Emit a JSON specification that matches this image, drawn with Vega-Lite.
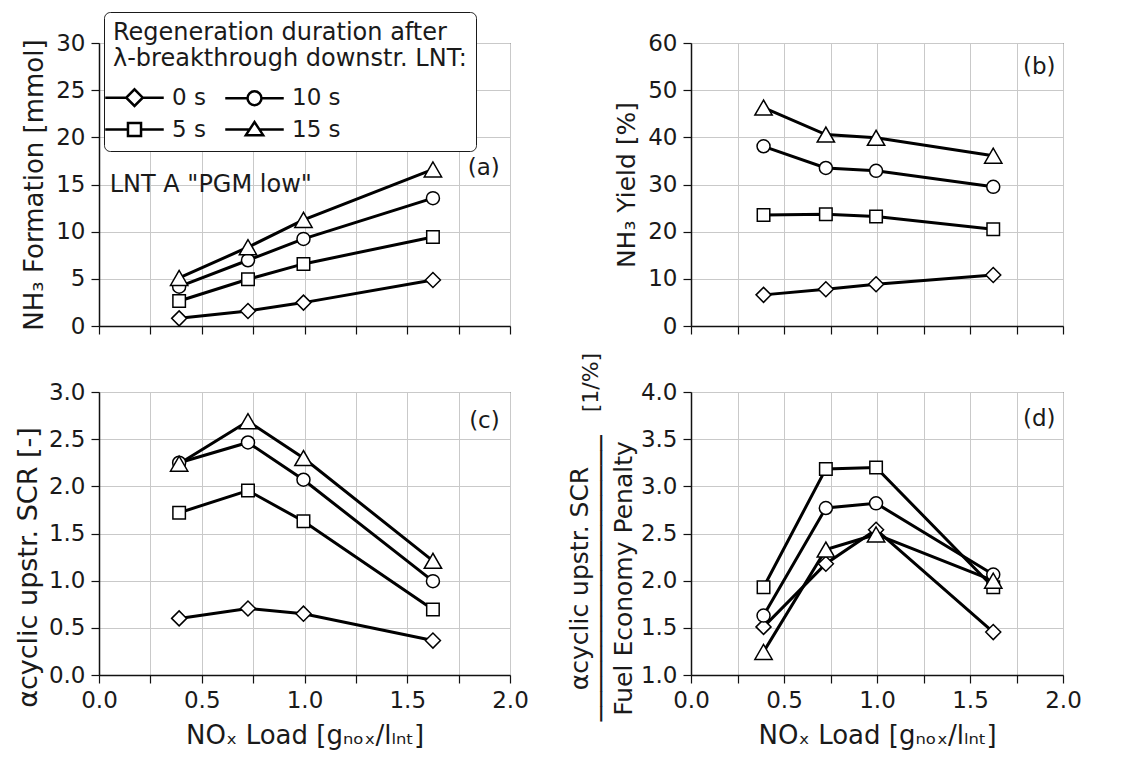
{
  "$schema": "https://vega.github.io/schema/vega-lite/v6.json",
  "background": "white",
  "padding": {"left": 13, "top": 11, "right": 10, "bottom": 5},
  "data": {"values": [
    {"p":"a","s":"0 s","x":0.39,"y":0.81},{"p":"a","s":"0 s","x":0.725,"y":1.59},{"p":"a","s":"0 s","x":0.995,"y":2.48},{"p":"a","s":"0 s","x":1.625,"y":4.88},
    {"p":"a","s":"5 s","x":0.39,"y":2.65},{"p":"a","s":"5 s","x":0.725,"y":4.95},{"p":"a","s":"5 s","x":0.995,"y":6.58},{"p":"a","s":"5 s","x":1.625,"y":9.44},
    {"p":"a","s":"10 s","x":0.39,"y":4.17},{"p":"a","s":"10 s","x":0.725,"y":6.97},{"p":"a","s":"10 s","x":0.995,"y":9.23},{"p":"a","s":"10 s","x":1.625,"y":13.55},
    {"p":"a","s":"15 s","x":0.39,"y":5.1},{"p":"a","s":"15 s","x":0.725,"y":8.35},{"p":"a","s":"15 s","x":0.995,"y":11.25},{"p":"a","s":"15 s","x":1.625,"y":16.6},
    {"p":"b","s":"0 s","x":0.39,"y":6.6},{"p":"b","s":"0 s","x":0.725,"y":7.8},{"p":"b","s":"0 s","x":0.995,"y":8.85},{"p":"b","s":"0 s","x":1.625,"y":10.8},
    {"p":"b","s":"5 s","x":0.39,"y":23.55},{"p":"b","s":"5 s","x":0.725,"y":23.7},{"p":"b","s":"5 s","x":0.995,"y":23.2},{"p":"b","s":"5 s","x":1.625,"y":20.5},
    {"p":"b","s":"10 s","x":0.39,"y":38.1},{"p":"b","s":"10 s","x":0.725,"y":33.5},{"p":"b","s":"10 s","x":0.995,"y":32.9},{"p":"b","s":"10 s","x":1.625,"y":29.5},
    {"p":"b","s":"15 s","x":0.39,"y":46.3},{"p":"b","s":"15 s","x":0.725,"y":40.6},{"p":"b","s":"15 s","x":0.995,"y":39.9},{"p":"b","s":"15 s","x":1.625,"y":36.1},
    {"p":"c","s":"0 s","x":0.39,"y":0.6},{"p":"c","s":"0 s","x":0.725,"y":0.705},{"p":"c","s":"0 s","x":0.995,"y":0.65},{"p":"c","s":"0 s","x":1.625,"y":0.365},
    {"p":"c","s":"5 s","x":0.39,"y":1.72},{"p":"c","s":"5 s","x":0.725,"y":1.955},{"p":"c","s":"5 s","x":0.995,"y":1.63},{"p":"c","s":"5 s","x":1.625,"y":0.695},
    {"p":"c","s":"10 s","x":0.39,"y":2.25},{"p":"c","s":"10 s","x":0.725,"y":2.465},{"p":"c","s":"10 s","x":0.995,"y":2.07},{"p":"c","s":"10 s","x":1.625,"y":0.995},
    {"p":"c","s":"15 s","x":0.39,"y":2.24},{"p":"c","s":"15 s","x":0.725,"y":2.69},{"p":"c","s":"15 s","x":0.995,"y":2.3},{"p":"c","s":"15 s","x":1.625,"y":1.21},
    {"p":"d","s":"0 s","x":0.39,"y":1.51},{"p":"d","s":"0 s","x":0.725,"y":2.18},{"p":"d","s":"0 s","x":0.995,"y":2.54},{"p":"d","s":"0 s","x":1.625,"y":1.455},
    {"p":"d","s":"5 s","x":0.39,"y":1.93},{"p":"d","s":"5 s","x":0.725,"y":3.185},{"p":"d","s":"5 s","x":0.995,"y":3.2},{"p":"d","s":"5 s","x":1.625,"y":1.93},
    {"p":"d","s":"10 s","x":0.39,"y":1.63},{"p":"d","s":"10 s","x":0.725,"y":2.77},{"p":"d","s":"10 s","x":0.995,"y":2.82},{"p":"d","s":"10 s","x":1.625,"y":2.065},
    {"p":"d","s":"15 s","x":0.39,"y":1.245},{"p":"d","s":"15 s","x":0.725,"y":2.33},{"p":"d","s":"15 s","x":0.995,"y":2.49},{"p":"d","s":"15 s","x":1.625,"y":2.0}
  ]},
  "columns": 2,
  "spacing": {"row": 66, "column": 181},
  "bounds": "flush",
  "resolve": {"scale": {"shape": "independent", "size": "independent"}, "legend": {"shape": "independent", "size": "independent"}},
  "concat": [
    {
      "width": 411, "height": 283,
      "resolve": {"scale": {"shape": "independent"}, "legend": {"shape": "independent"}},
      "layer": [
        {"transform": [{"filter": "datum.p === 'a'"}],
         "mark": {"type": "line", "stroke": "black", "strokeWidth": 3},
         "encoding": {
           "x": {"field": "x", "type": "quantitative", "scale": {"domain": [0, 2], "nice": false},
                 "axis": {"values": [0,0.25,0.5,0.75,1,1.25,1.5,1.75,2], "labels": false, "title": null, "tickSize": 8}},
           "y": {"field": "y", "type": "quantitative", "scale": {"domain": [0, 30], "nice": false, "zero": false},
                 "axis": {"values": [0,2.5,5,7.5,10,12.5,15,17.5,20,22.5,25,27.5,30], "format": "d",
                          "labelExpr": "datum.value % 5 === 0 ? datum.label : ''",
                          "gridOpacity": {"condition": {"test": "datum.value % 5 === 0", "value": 1}, "value": 0},
                          "tickSize": {"condition": {"test": "datum.value % 5 === 0", "value": 8}, "value": 4},
                          "labelPadding": 6,
                          "title": "NH₃ Formation [mmol]", "titleFontSize": 26, "titlePadding": 8}},
           "detail": {"field": "s"}
         }},
        {"transform": [{"filter": "datum.p === 'a'"}],
         "mark": {"type": "point", "filled": true, "fill": "white", "stroke": "black", "strokeWidth": 1.5, "opacity": 1},
         "encoding": {
           "x": {"field": "x", "type": "quantitative", "scale": {"domain": [0, 2], "nice": false}},
           "y": {"field": "y", "type": "quantitative", "scale": {"domain": [0, 30], "nice": false, "zero": false}},
           "shape": {"field": "s", "type": "nominal", "scale": {"domain": ["15 s","10 s","5 s","0 s"], "range": ["triangle-up","circle","square","diamond"]}, "legend": null},
           "size": {"field": "s", "type": "nominal", "scale": {"type": "ordinal", "domain": ["10 s","0 s","15 s","5 s"], "range": [169,225,300,156]}, "legend": null}
         }},
        {"transform": [{"filter": "false"}],
         "mark": {"type": "point", "filled": true, "fill": "white", "stroke": "black", "strokeWidth": 2.5, "opacity": 1},
         "encoding": {
           "x": {"field": "x", "type": "quantitative", "scale": {"domain": [0, 2], "nice": false}},
           "y": {"field": "y", "type": "quantitative", "scale": {"domain": [0, 30], "nice": false, "zero": false}},
           "shape": {"field": "s", "type": "nominal",
                     "scale": {"domain": ["0 s","5 s","10 s","15 s"],
                               "range": ["M-3.9,0H-1.1M-1.1,0L0,-1.1L1.1,0L0,1.1ZM1.1,0H3.9",
                                         "M-3.9,0H-0.87M-0.87,-0.87H0.87V0.87H-0.87ZM0.87,0H3.9",
                                         "M-3.9,0H-0.93M-0.93,0A0.93,0.93,0,1,0,0.93,0A0.93,0.93,0,1,0,-0.93,0ZM0.93,0H3.9",
                                         "M-3.9,0H-0.66M-1.15,0.75L0,-1.0L1.15,0.75ZM0.66,0H3.9"]},
                     "legend": {
                       "orient": "none", "legendX": 5, "legendY": -31,
                       "title": ["Regeneration duration after", "λ-breakthrough downstr. LNT:"],
                       "titleLimit": 600, "labelLimit": 200,
                       "titleFontSize": 24, "titleFontWeight": "normal", "titleColor": "#1a1a1a", "titleLineHeight": 26, "titlePadding": 15,
                       "labelFontSize": 23, "labelColor": "#1a1a1a",
                       "columns": 2, "columnPadding": 14, "rowPadding": 6,
                       "symbolSize": 225, "symbolStrokeWidth": 2.5, "symbolOffset": 10, "labelOffset": 26,
                       "symbolOpacity": 1,
                       "padding": 9, "strokeColor": "#1a1a1a", "cornerRadius": 6, "fillColor": "white"
                     }}
         }},
        {"data": {"values": [{}]},
         "mark": {"type": "text", "fontSize": 23, "align": "right", "baseline": "middle"},
         "encoding": {"x": {"datum": 1.95, "type": "quantitative", "scale": {"domain": [0, 2], "nice": false}},
                      "y": {"datum": 16.7, "type": "quantitative", "scale": {"domain": [0, 30], "nice": false, "zero": false}},
                      "text": {"value": "(a)"}}},
        {"data": {"values": [{}]},
         "mark": {"type": "text", "fontSize": 24, "align": "left", "baseline": "middle"},
         "encoding": {"x": {"datum": 0.052, "type": "quantitative", "scale": {"domain": [0, 2], "nice": false}},
                      "y": {"datum": 15, "type": "quantitative", "scale": {"domain": [0, 30], "nice": false, "zero": false}},
                      "text": {"value": "LNT A \"PGM low\""}}}
      ]
    },
    {
      "width": 372, "height": 283,
      "layer": [
        {"transform": [{"filter": "datum.p === 'b'"}],
         "mark": {"type": "line", "stroke": "black", "strokeWidth": 3},
         "encoding": {
           "x": {"field": "x", "type": "quantitative", "scale": {"domain": [0, 2], "nice": false},
                 "axis": {"values": [0,0.25,0.5,0.75,1,1.25,1.5,1.75,2], "labels": false, "title": null, "tickSize": 8}},
           "y": {"field": "y", "type": "quantitative", "scale": {"domain": [0, 60], "nice": false, "zero": false},
                 "axis": {"values": [0,5,10,15,20,25,30,35,40,45,50,55,60], "format": "d",
                          "labelExpr": "datum.value % 10 === 0 ? datum.label : ''",
                          "gridOpacity": {"condition": {"test": "datum.value % 10 === 0", "value": 1}, "value": 0},
                          "tickSize": {"condition": {"test": "datum.value % 10 === 0", "value": 8}, "value": 4},
                          "labelPadding": 6,
                          "title": "NH₃ Yield [%]", "titleFontSize": 25, "titlePadding": 8}},
           "detail": {"field": "s"}
         }},
        {"transform": [{"filter": "datum.p === 'b'"}],
         "mark": {"type": "point", "filled": true, "fill": "white", "stroke": "black", "strokeWidth": 1.5, "opacity": 1},
         "encoding": {
           "x": {"field": "x", "type": "quantitative", "scale": {"domain": [0, 2], "nice": false}},
           "y": {"field": "y", "type": "quantitative", "scale": {"domain": [0, 60], "nice": false, "zero": false}},
           "shape": {"field": "s", "type": "nominal", "scale": {"domain": ["0 s","5 s","10 s","15 s"], "range": ["diamond","square","circle","triangle-up"]}, "legend": null},
           "size": {"field": "s", "type": "nominal", "scale": {"type": "ordinal", "domain": ["15 s","10 s","5 s","0 s"], "range": [300,169,156,225]}, "legend": null}
         }},
        {"data": {"values": [{}]},
         "mark": {"type": "text", "fontSize": 23, "align": "right", "baseline": "middle"},
         "encoding": {"x": {"datum": 1.96, "type": "quantitative", "scale": {"domain": [0, 2], "nice": false}},
                      "y": {"datum": 55, "type": "quantitative", "scale": {"domain": [0, 60], "nice": false, "zero": false}},
                      "text": {"value": "(b)"}}}
      ]
    },
    {
      "width": 411, "height": 283,
      "layer": [
        {"transform": [{"filter": "datum.p === 'c'"}],
         "mark": {"type": "line", "stroke": "black", "strokeWidth": 3},
         "encoding": {
           "x": {"field": "x", "type": "quantitative", "scale": {"domain": [0, 2], "nice": false},
                 "axis": {"values": [0,0.25,0.5,0.75,1,1.25,1.5,1.75,2], "format": ".1f",
                          "labelExpr": "abs(datum.value*2 - round(datum.value*2)) < 0.001 ? datum.label : ''",
                          "tickSize": 8, "labelPadding": 6,
                          "title": "NOₓ Load [gₙₒₓ/lₗₙₜ]", "titleFontSize": 26, "titlePadding": 10}},
           "y": {"field": "y", "type": "quantitative", "scale": {"domain": [0, 3], "nice": false, "zero": false},
                 "axis": {"values": [0,0.25,0.5,0.75,1,1.25,1.5,1.75,2,2.25,2.5,2.75,3], "format": ".1f",
                          "labelExpr": "abs(datum.value*2 - round(datum.value*2)) < 0.001 ? datum.label : ''",
                          "gridOpacity": {"condition": {"test": "abs(datum.value*2 - round(datum.value*2)) < 0.001", "value": 1}, "value": 0},
                          "tickSize": {"condition": {"test": "abs(datum.value*2 - round(datum.value*2)) < 0.001", "value": 8}, "value": 4},
                          "labelPadding": 6,
                          "title": "αcyclic upstr. SCR [-]", "titleFontSize": 27, "titlePadding": 6, "titleY": 175}},
           "detail": {"field": "s"}
         }},
        {"transform": [{"filter": "datum.p === 'c'"}],
         "mark": {"type": "point", "filled": true, "fill": "white", "stroke": "black", "strokeWidth": 1.5, "opacity": 1},
         "encoding": {
           "x": {"field": "x", "type": "quantitative", "scale": {"domain": [0, 2], "nice": false}},
           "y": {"field": "y", "type": "quantitative", "scale": {"domain": [0, 3], "nice": false, "zero": false}},
           "shape": {"field": "s", "type": "nominal", "scale": {"domain": ["0 s","5 s","10 s","15 s"], "range": ["diamond","square","circle","triangle-up"]}, "legend": null},
           "size": {"field": "s", "type": "nominal", "scale": {"type": "ordinal", "domain": ["15 s","10 s","5 s","0 s"], "range": [300,169,156,225]}, "legend": null}
         }},
        {"data": {"values": [{}]},
         "mark": {"type": "text", "fontSize": 23, "align": "right", "baseline": "middle"},
         "encoding": {"x": {"datum": 1.95, "type": "quantitative", "scale": {"domain": [0, 2], "nice": false}},
                      "y": {"datum": 2.69, "type": "quantitative", "scale": {"domain": [0, 3], "nice": false, "zero": false}},
                      "text": {"value": "(c)"}}}
      ]
    },
    {
      "width": 372, "height": 283,
      "layer": [
        {"transform": [{"filter": "datum.p === 'd'"}],
         "mark": {"type": "line", "stroke": "black", "strokeWidth": 3},
         "encoding": {
           "x": {"field": "x", "type": "quantitative", "scale": {"domain": [0, 2], "nice": false},
                 "axis": {"values": [0,0.25,0.5,0.75,1,1.25,1.5,1.75,2], "format": ".1f",
                          "labelExpr": "abs(datum.value*2 - round(datum.value*2)) < 0.001 ? datum.label : ''",
                          "tickSize": 8, "labelPadding": 6,
                          "title": "NOₓ Load [gₙₒₓ/lₗₙₜ]", "titleFontSize": 26, "titlePadding": 10}},
           "y": {"field": "y", "type": "quantitative", "scale": {"domain": [1, 4], "nice": false, "zero": false},
                 "axis": {"values": [1,1.25,1.5,1.75,2,2.25,2.5,2.75,3,3.25,3.5,3.75,4], "format": ".1f",
                          "labelExpr": "abs(datum.value*2 - round(datum.value*2)) < 0.001 ? datum.label : ''",
                          "gridOpacity": {"condition": {"test": "abs(datum.value*2 - round(datum.value*2)) < 0.001", "value": 1}, "value": 0},
                          "tickSize": {"condition": {"test": "abs(datum.value*2 - round(datum.value*2)) < 0.001", "value": 8}, "value": 4},
                          "labelPadding": 6,
                          "title": ["αcyclic upstr. SCR", "───────────────────", "Fuel Economy Penalty"],
                          "titleFontSize": 25, "titleLineHeight": 22, "titlePadding": 4, "titleY": 186}},
           "detail": {"field": "s"}
         }},
        {"transform": [{"filter": "datum.p === 'd'"}],
         "mark": {"type": "point", "filled": true, "fill": "white", "stroke": "black", "strokeWidth": 1.5, "opacity": 1},
         "encoding": {
           "x": {"field": "x", "type": "quantitative", "scale": {"domain": [0, 2], "nice": false}},
           "y": {"field": "y", "type": "quantitative", "scale": {"domain": [1, 4], "nice": false, "zero": false}},
           "shape": {"field": "s", "type": "nominal", "scale": {"domain": ["0 s","5 s","10 s","15 s"], "range": ["diamond","square","circle","triangle-up"]}, "legend": null},
           "size": {"field": "s", "type": "nominal", "scale": {"type": "ordinal", "domain": ["15 s","10 s","5 s","0 s"], "range": [300,169,156,225]}, "legend": null}
         }},
        {"data": {"values": [{}]},
         "mark": {"type": "text", "fontSize": 23, "align": "right", "baseline": "middle"},
         "encoding": {"x": {"datum": 1.96, "type": "quantitative", "scale": {"domain": [0, 2], "nice": false}},
                      "y": {"datum": 3.71, "type": "quantitative", "scale": {"domain": [1, 4], "nice": false, "zero": false}},
                      "text": {"value": "(d)"}}},
        {"data": {"values": [{}]},
         "mark": {"type": "text", "fontSize": 22, "align": "center", "baseline": "middle", "angle": 270},
         "encoding": {"x": {"datum": -0.535, "type": "quantitative", "scale": {"domain": [0, 2], "nice": false}},
                      "y": {"datum": 4.1, "type": "quantitative", "scale": {"domain": [1, 4], "nice": false, "zero": false}},
                      "text": {"value": "[1/%]"}}}
      ]
    }
  ],
  "config": {
    "font": "DejaVu Sans",
    "view": {"stroke": "#1a1a1a", "strokeWidth": 1},
    "axis": {
      "domainColor": "#111111", "domainWidth": 1.5,
      "tickColor": "#111111", "tickWidth": 1.2,
      "gridColor": "#c9c9c9", "gridWidth": 1,
      "labelFontSize": 23, "labelColor": "#1a1a1a", "labelFlush": false, "labelOverlap": false, "labelBound": false,
      "titleFontSize": 26, "titleFontWeight": "normal", "titleColor": "#1a1a1a"
    },
    "text": {"color": "#1a1a1a"}
  }
}
